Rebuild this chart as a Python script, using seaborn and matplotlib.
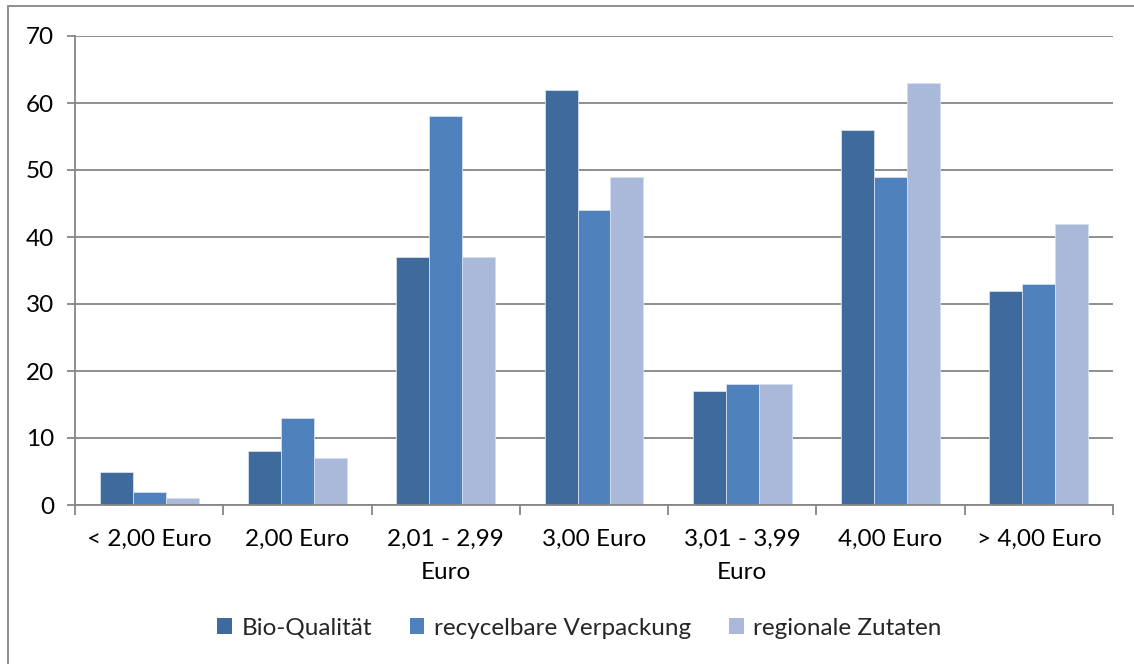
import matplotlib
matplotlib.use("Agg")
import matplotlib.pyplot as plt
from matplotlib.patches import Rectangle
import seaborn as sns
import pandas as pd

categories = ["< 2,00 Euro", "2,00 Euro", "2,01 - 2,99\nEuro", "3,00 Euro",
              "3,01 - 3,99\nEuro", "4,00 Euro", "> 4,00 Euro"]
series = ["Bio-Qualität", "recycelbare Verpackung", "regionale Zutaten"]
bio = [5, 8, 37, 62, 17, 56, 32]
recycel = [2, 13, 58, 44, 18, 49, 33]
regional = [1, 7, 37, 49, 18, 63, 42]
colors = ["#3F6A9C", "#4F81BD", "#AAB9D9"]

rows = []
for name, vals in zip(series, [bio, recycel, regional]):
    for c, v in zip(categories, vals):
        rows.append({"Kategorie": c, "Wert": v, "Serie": name})
df = pd.DataFrame(rows)

sns.set_theme(style="white")
plt.rcParams["font.family"] = ["Lato", "DejaVu Sans"]

FS = 17.5

fig = plt.figure(figsize=(11.34, 6.64), dpi=100)
ax = fig.add_axes([75 / 1134, 1 - 505 / 664, (1113 - 75) / 1134, (505 - 36) / 664])

sns.barplot(data=df, x="Kategorie", y="Wert", hue="Serie", order=categories,
            hue_order=series, palette=colors, width=0.667, gap=0,
            saturation=1, edgecolor="#d5deee", linewidth=0.6, ax=ax,
            errorbar=None)

grid_c = "#868686"
ax.set_ylim(0, 70)
ax.set_xlim(-0.5, len(categories) - 0.5)
ax.set_yticks(range(0, 71, 10))
ax.yaxis.grid(True, color=grid_c, linewidth=1.3)
ax.set_axisbelow(True)
for s in ["top", "right"]:
    ax.spines[s].set_visible(False)
for s in ["left", "bottom"]:
    ax.spines[s].set_color(grid_c)
    ax.spines[s].set_linewidth(1.3)

ax.set_xlabel("")
ax.set_ylabel("")
ax.tick_params(axis="y", which="major", left=True, length=6, width=1.3,
               color=grid_c, labelsize=FS, labelcolor="black", pad=9)
ax.tick_params(axis="x", which="major", length=0, labelsize=FS,
               labelcolor="black", pad=17)
for lbl in ax.get_xticklabels():
    lbl.set_linespacing(1.75)
ax.set_xticks([i - 0.5 for i in range(len(categories) + 1)], minor=True)
ax.tick_params(axis="x", which="minor", bottom=True, length=7, width=1.3,
               color=grid_c)

leg = ax.legend(loc="center", bbox_to_anchor=(0.511, 0.054),
                bbox_transform=fig.transFigure, ncol=3, frameon=False,
                fontsize=FS, handlelength=0.6, handleheight=0.6,
                handletextpad=0.4, columnspacing=1.55)
for h in leg.legend_handles:
    h.set_edgecolor("none")

# chart-area frame; its right and bottom edges run past the canvas
fig.patches.append(Rectangle((8 / 1134, -10 / 664), 1140 / 1134, 668 / 664,
                             transform=fig.transFigure, fill=False,
                             edgecolor="#868686", linewidth=1.3))

fig.savefig("out.png", dpi=100)
